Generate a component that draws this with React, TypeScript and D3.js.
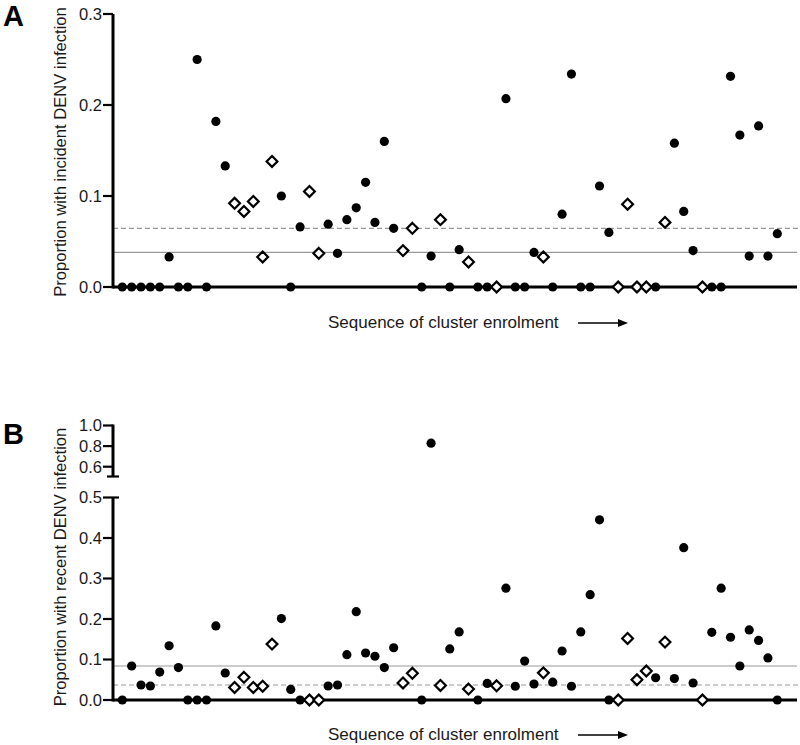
import React from 'react';
import * as d3 from 'd3';

// marker type per cluster, in order of enrolment: 'c' = filled circle, 'd' = open diamond
const markers = [
  'c','c','c','c','c','c','c','c','c','c','c','c','d','d','d','d','d','c','c','c',
  'd','d','c','c','c','c','c','c','c','c','d','d','c','c','d','c','c','d','c','c',
  'd','c','c','c','c','d','c','c','c','c','c','c','c','d','d','d','d','c','d','c',
  'c','c','d','c','c','c','c','c','c','c','c',
];

// panel A: proportion with incident DENV infection
const incident = [
  0, 0, 0, 0, 0, 0.033, 0, 0, 0.25, 0, 0.182, 0.133, 0.092, 0.083, 0.094, 0.033, 0.138, 0.1, 0, 0.066,
  0.105, 0.037, 0.069, 0.037, 0.074, 0.087, 0.115, 0.071, 0.16, 0.0645, 0.04, 0.0645, 0, 0.034, 0.074, 0, 0.041, 0.0275, 0, 0,
  0, 0.207, 0, 0, 0.038, 0.033, 0, 0.08, 0.234, 0, 0, 0.111, 0.06, 0, 0.091, 0, 0, 0, 0.071, 0.158,
  0.083, 0.04, 0, 0, 0, 0.2315, 0.167, 0.034, 0.177, 0.034, 0.0586,
];

// panel B: proportion with recent DENV infection
const recent = [
  0, 0.084, 0.037, 0.0346, 0.069, 0.134, 0.08, 0, 0, 0, 0.183, 0.0667, 0.031, 0.056, 0.031, 0.034, 0.138, 0.201, 0.026, 0,
  0, 0, 0.0346, 0.037, 0.112, 0.218, 0.116, 0.108, 0.08, 0.129, 0.042, 0.066, 0, 0.828, 0.036, 0.126, 0.168, 0.027, 0, 0.041,
  0.035, 0.276, 0.034, 0.096, 0.0395, 0.067, 0.044, 0.121, 0.034, 0.168, 0.26, 0.445, 0, 0, 0.152, 0.05, 0.0716, 0.055, 0.143, 0.053,
  0.376, 0.042, 0, 0.167, 0.276, 0.155, 0.084, 0.173, 0.147, 0.104, 0,
];

// reference lines
const incidentSolid = 0.038;
const incidentDashed = 0.0645;
const recentSolid = 0.084;
const recentDashed = 0.037;

const ticksA = [0, 0.1, 0.2, 0.3];
const ticksBLow = [0, 0.1, 0.2, 0.3, 0.4, 0.5];
const ticksBHigh = [0.6, 0.8, 1.0];

const FONT = "'Liberation Sans', Arial, Helvetica, sans-serif";
const TXT = '#1a1a1a';
const AXIS_X = 113;
const AXIS_END = 797;

const x = d3.scaleLinear().domain([0, markers.length - 1]).range([122.3, 777.3]);

const Marker = ({ cx, cy, type }: { cx: number; cy: number; type: string }) =>
  type === 'c' ? (
    <circle cx={cx} cy={cy} r={4.6} fill="#000" />
  ) : (
    <path
      d={`M${cx},${cy - 5.4} L${cx + 5.4},${cy} L${cx},${cy + 5.4} L${cx - 5.4},${cy} Z`}
      fill="#fff"
      stroke="#000"
      strokeWidth={2.2}
    />
  );

const YTicks = ({ scale, ticks }: { scale: d3.ScaleLinear<number, number>; ticks: number[] }) => (
  <g>
    {ticks.map((t) => (
      <g key={t}>
        <line x1={AXIS_X - 10} x2={AXIS_X} y1={scale(t)} y2={scale(t)} stroke="#000" strokeWidth={2.2} />
        <text
          x={AXIS_X - 11}
          y={scale(t)}
          dy="0.36em"
          textAnchor="end"
          fontSize={16.5}
          fontFamily={FONT}
          fill={TXT}
        >
          {t.toFixed(1)}
        </text>
      </g>
    ))}
  </g>
);

const XTitle = ({ y }: { y: number }) => (
  <g>
    <text x={328} y={y} fontSize={17} fontFamily={FONT} fill={TXT}>
      Sequence of cluster enrolment
    </text>
    <line x1={578} x2={620} y1={y - 5} y2={y - 5} stroke="#000" strokeWidth={1.3} />
    <path d={`M628,${y - 5} L618,${y - 9} L618,${y - 1} Z`} fill="#000" />
  </g>
);

const App = () => {
  const yA = d3.scaleLinear().domain([0, 0.3]).range([287, 14]);
  const yBLow = d3.scaleLinear().domain([0, 0.5]).range([700, 497.5]);
  const yBHigh = d3.scaleLinear().domain([0.6, 1.0]).range([466.7, 425.5]);
  const yB = (v: number) => (v > 0.5 ? yBHigh(v) : yBLow(v));

  return (
    <svg width={800} height={745} style={{ position: 'absolute', left: 0, top: 0, background: '#fff' }}>
      {/* ---------- Panel A ---------- */}
      <text x={3} y={26} fontSize={29} fontWeight="bold" fontFamily={FONT} fill="#000">A</text>
      <text
        transform={`translate(66,152) rotate(-90)`}
        textAnchor="middle"
        fontSize={16.6}
        fontFamily={FONT}
        fill={TXT}
      >
        Proportion with incident DENV infection
      </text>
      <line x1={AXIS_X} x2={800} y1={yA(incidentDashed)} y2={yA(incidentDashed)} stroke="#999" strokeWidth={1.2} strokeDasharray="5,3" />
      <line x1={AXIS_X} x2={AXIS_END} y1={yA(incidentSolid)} y2={yA(incidentSolid)} stroke="#999" strokeWidth={1.2} />
      <line x1={AXIS_X} x2={AXIS_X} y1={yA(0.3)} y2={yA(0) + 1.5} stroke="#000" strokeWidth={3} />
      <line x1={AXIS_X} x2={AXIS_END} y1={yA(0)} y2={yA(0)} stroke="#000" strokeWidth={3} />
      <YTicks scale={yA} ticks={ticksA} />
      {incident.map((v, i) => (
        <Marker key={i} cx={x(i)} cy={yA(v)} type={markers[i]} />
      ))}
      <XTitle y={328} />

      {/* ---------- Panel B ---------- */}
      <text x={3} y={444} fontSize={29} fontWeight="bold" fontFamily={FONT} fill="#000">B</text>
      <text
        transform={`translate(66,567) rotate(-90)`}
        textAnchor="middle"
        fontSize={16.6}
        fontFamily={FONT}
        fill={TXT}
      >
        Proportion with recent DENV infection
      </text>
      <line x1={AXIS_X} x2={AXIS_END} y1={yB(recentSolid)} y2={yB(recentSolid)} stroke="#999" strokeWidth={1.2} />
      <line x1={AXIS_X} x2={800} y1={yB(recentDashed)} y2={yB(recentDashed)} stroke="#999" strokeWidth={1.2} strokeDasharray="5,3" />
      {/* broken y axis: upper and lower segments */}
      <line x1={AXIS_X} x2={AXIS_X} y1={yBHigh(1.0) - 1} y2={476.5} stroke="#000" strokeWidth={3} />
      <line x1={AXIS_X - 6} x2={AXIS_X + 6} y1={476.5} y2={476.5} stroke="#000" strokeWidth={2.2} />
      <line x1={AXIS_X} x2={AXIS_X} y1={yBLow(0.5)} y2={yBLow(0) + 1.5} stroke="#000" strokeWidth={3} />
      <line x1={AXIS_X} x2={AXIS_X + 6} y1={yBLow(0.5)} y2={yBLow(0.5)} stroke="#000" strokeWidth={2.2} />
      <line x1={AXIS_X} x2={AXIS_END} y1={yBLow(0)} y2={yBLow(0)} stroke="#000" strokeWidth={3} />
      <YTicks scale={yBLow} ticks={ticksBLow} />
      <YTicks scale={yBHigh} ticks={ticksBHigh} />
      {recent.map((v, i) => (
        <Marker key={i} cx={x(i)} cy={yB(v)} type={markers[i]} />
      ))}
      <XTitle y={740} />
    </svg>
  );
};

export default App;
